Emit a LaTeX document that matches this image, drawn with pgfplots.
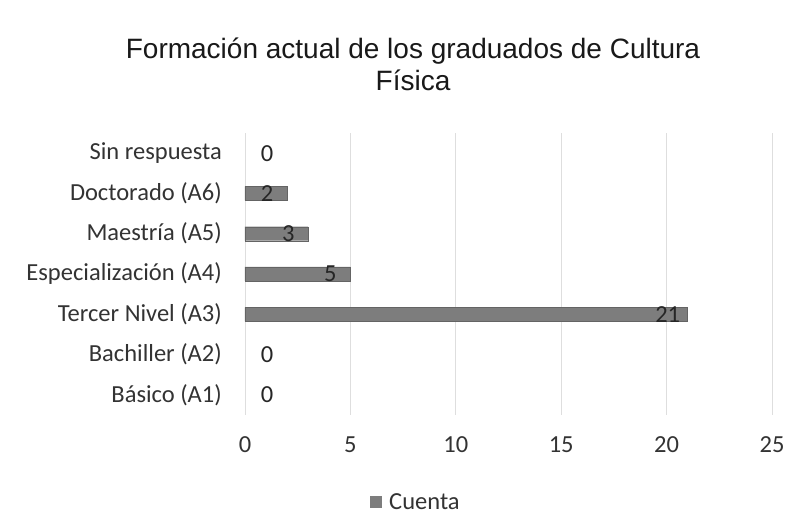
\documentclass[border=0pt]{standalone}
\usepackage{pgfplots}
\pgfplotsset{compat=1.18}
\usepackage{fontspec}
\setmainfont{Carlito}
\newfontfamily\arialfont{Liberation Sans}
\definecolor{barc}{RGB}{125,125,125}
\definecolor{gridc}{RGB}{222,222,222}
\begin{document}
\begin{tikzpicture}
\path[use as bounding box, fill=white] (0,0) rectangle (804pt,529pt);
\begin{axis}[
  at={(245pt,114pt)}, anchor=south west,
  scale only axis, width=527pt, height=282pt,
  xbar, bar width=14pt, bar shift=0pt,
  xmin=0, xmax=25, ymin=-0.5, ymax=6.5,
  xtick={0,5,...,25}, ytick={0,...,6},
  yticklabels={Básico (A1),Bachiller (A2),Tercer Nivel (A3),Especialización (A4),Maestría (A5),Doctorado (A6),Sin respuesta},
  xmajorgrids, grid style={gridc, line width=0.8pt},
  axis line style={draw=none}, major tick length=0pt,
  /pgf/number format/assume math mode=true,
  tick label style={font=\fontsize{24.5}{28}\selectfont, text=black!80},
  xticklabel style={anchor=center, yshift=-30pt},
  yticklabel style={anchor=east, inner sep=0pt, xshift=-23pt},
  legend style={at={(0.324,0)}, anchor=center, yshift=-87pt, draw=none, fill=none,
    font=\fontsize{24.5}{28}\selectfont, text=black!80},
  legend image code/.code={\fill[barc] (0pt,-5.5pt) rectangle (11pt,5.5pt); \path (17pt,0pt);},
]
\addplot[fill=barc, draw=barc!80!black,
  nodes near coords, nodes near coords style={anchor=center, xshift=-20pt, font=\fontsize{24.5}{28}\selectfont, text=black!85}]
  coordinates {(2,5) (3,4) (5,3) (21,2)};
\addlegendentry{Cuenta}
\addplot[draw=none, fill=none, forget plot,
  nodes near coords, nodes near coords style={anchor=center, xshift=22pt, font=\fontsize{24.5}{28}\selectfont, text=black!85}]
  coordinates {(0,0) (0,1) (0,6)};
\end{axis}
\node[font=\arialfont\fontsize{28}{32}\selectfont, align=center, text=black!90] at (413pt,465pt)
  {Formación actual de los graduados de Cultura\\Física};
\end{tikzpicture}
\end{document}
